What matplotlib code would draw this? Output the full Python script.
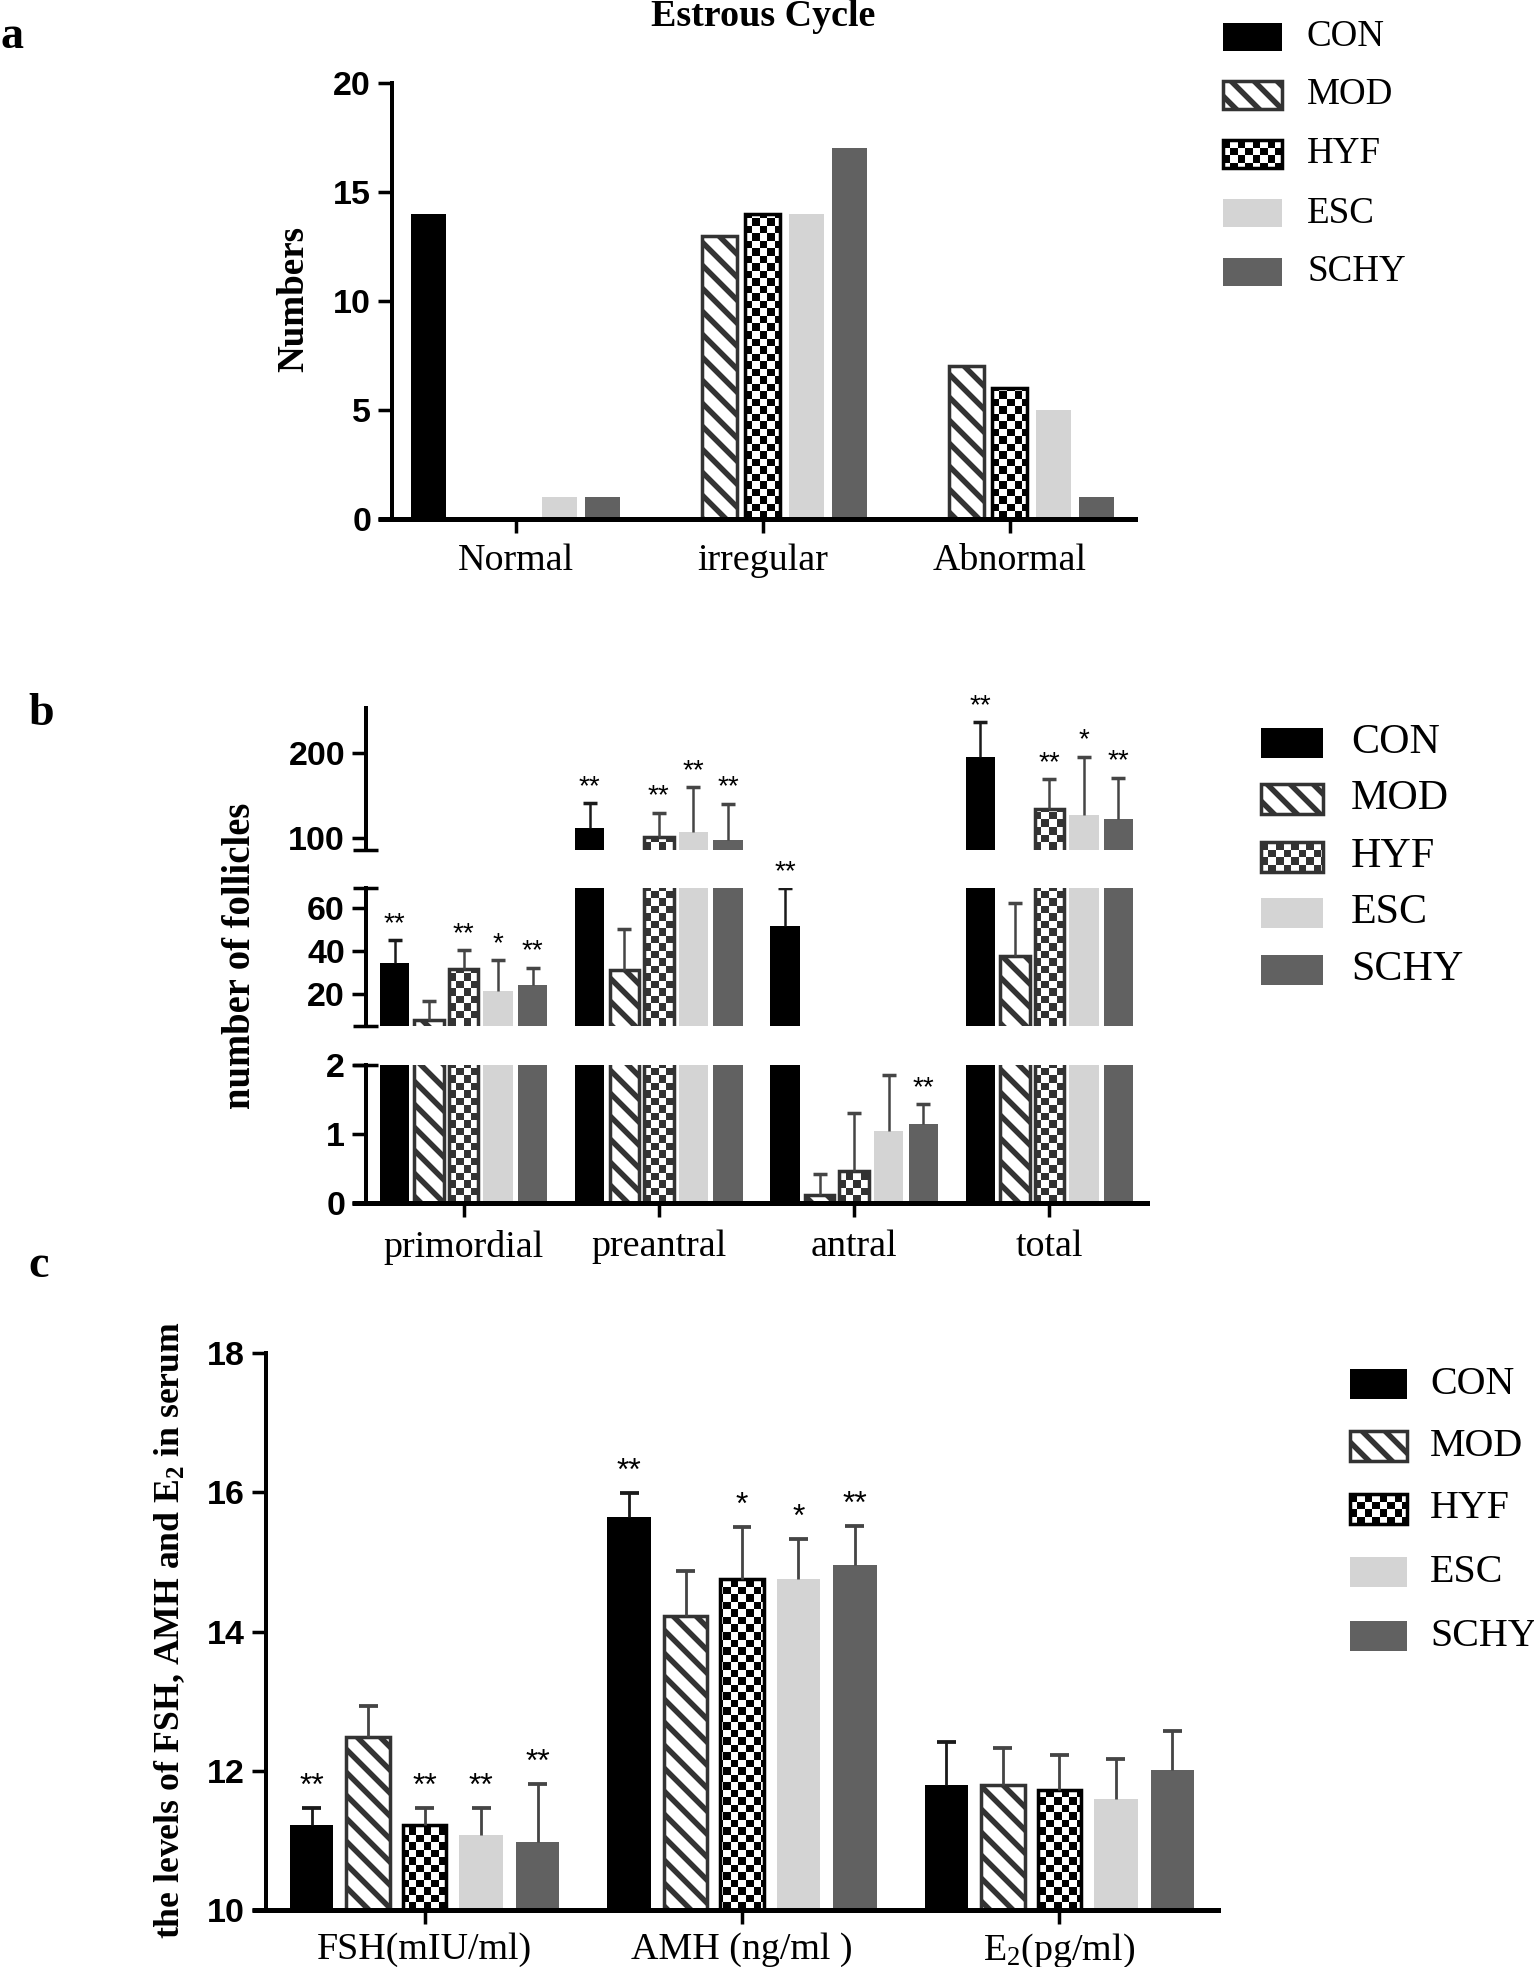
import numpy as np
import matplotlib
matplotlib.use('Agg')
import matplotlib.pyplot as plt
from matplotlib.patches import Rectangle
from matplotlib.image import AxesImage

W, H = 1534, 1967
DPI = 138
PT = 72 / DPI      # points per pixel

plt.rcParams['font.family'] = 'Liberation Serif'
plt.rcParams['mathtext.fontset'] = 'custom'
plt.rcParams['mathtext.rm'] = 'Liberation Serif'
plt.rcParams['mathtext.bf'] = 'Liberation Serif:bold'
plt.rcParams['mathtext.it'] = 'Liberation Serif:italic'
plt.rcParams['hatch.linewidth'] = 5.5 * PT

GROUPS = ['CON', 'MOD', 'HYF', 'ESC', 'SCHY']

# panel a - estrous cycle (numbers of rats)
cycle_cats = ['Normal', 'irregular', 'Abnormal']
cycle_con = [14, 0, 0]
cycle_mod = [0, 13, 7]
cycle_hyf = [0, 14, 6]
cycle_esc = [1, 14, 5]
cycle_schy = [1, 17, 1]

# panel b - number of follicles, mean and sd
foll_cats = ['primordial', 'preantral', 'antral', 'total']
foll_con = [34.3, 111.6, 51.7, 194.3]
foll_mod = [7.5, 31.3, 0.11, 37.9]
foll_hyf = [31.5, 101.9, 0.46, 134.3]
foll_esc = [21.2, 107.0, 1.04, 127.3]
foll_schy = [23.9, 97.4, 1.15, 122.9]
foll_con_sd = [11.0, 29.8, 17.7, 40.9]
foll_mod_sd = [8.9, 19.2, 0.31, 24.5]
foll_hyf_sd = [8.8, 28.1, 0.85, 34.4]
foll_esc_sd = [14.7, 52.8, 0.82, 68.1]
foll_schy_sd = [8.3, 43.1, 0.28, 47.9]
foll_con_sig = ['**', '**', '**', '**']
foll_mod_sig = ['', '', '', '']
foll_hyf_sig = ['**', '**', '', '**']
foll_esc_sig = ['*', '**', '', '*']
foll_schy_sig = ['**', '**', '**', '**']

# panel c - serum hormones, mean and sd
horm_cats = ['FSH(mIU/ml)', 'AMH (ng/ml )', 'E$_2$(pg/ml)']
horm_con = [11.22, 15.65, 11.79]
horm_mod = [12.48, 14.22, 11.79]
horm_hyf = [11.22, 14.76, 11.73]
horm_esc = [11.08, 14.76, 11.59]
horm_schy = [10.98, 14.96, 12.01]
horm_con_sd = [0.25, 0.34, 0.62]
horm_mod_sd = [0.45, 0.65, 0.53]
horm_hyf_sd = [0.25, 0.74, 0.49]
horm_esc_sd = [0.39, 0.57, 0.58]
horm_schy_sd = [0.83, 0.56, 0.56]
horm_con_sig = ['**', '**', '']
horm_mod_sig = ['', '', '']
horm_hyf_sig = ['**', '*', '']
horm_esc_sig = ['**', '*', '']
horm_schy_sig = ['**', '**', '']

ESC_C = '#d4d4d4'
SCHY_C = '#616161'
MOD_EDGE = '#333333'
MOD_HATCH = '\\\\'
TICK_FS = 34 * PT
XLAB_FS = 38 * PT


def px_rect(x0, y0, x1, y1):
    return [x0 / W, 1 - y1 / H, (x1 - x0) / W, (y1 - y0) / H]


def add_checker(ax, patch, trans, x0, x1, y0, y1, wpx, hpx, cell=7.5):
    # white checker squares clipped to a patch
    ncol = int(np.ceil(wpx / cell))
    nrow = int(np.ceil(hpx / cell))
    rows, cols = np.indices((nrow, ncol))
    arr = np.ones((nrow, ncol, 4))
    arr[..., 3] = ((rows + cols) % 2 == 0).astype(float)
    xe = x0 + (x1 - x0) * ncol * cell / wpx
    ye = y0 + (y1 - y0) * nrow * cell / hpx
    im = AxesImage(ax, interpolation='nearest', origin='upper',
                   extent=(x0, xe, y0, ye), transform=trans)
    im.set_data(arr)
    im.set_zorder(patch.get_zorder() + 0.1)
    im.set_clip_path(patch)
    ax.add_image(im)


def axes_px(ax):
    bb = ax.get_position()
    return bb.width * W, bb.height * H


def draw_bars(ax, series, step, width, hyf_bg):
    n = len(series[0])
    wpx, hpx = axes_px(ax)
    xs = []
    for i, (g, vals) in enumerate(zip(GROUPS, series)):
        x = np.arange(n) + (i - 2) * step
        vals = np.asarray(vals, float)
        lw = np.where(vals > 0, 3.5 * PT, 0)
        if g == 'CON':
            ax.bar(x, vals, width, color='black', linewidth=0, zorder=2)
        elif g == 'MOD':
            ax.bar(x, vals, width, color='white', edgecolor=MOD_EDGE, hatch=MOD_HATCH,
                   linewidth=lw, zorder=2)
        elif g == 'HYF':
            bars = ax.bar(x, vals, width, color=hyf_bg, linewidth=0, zorder=2)
            for b in bars:
                add_checker(ax, b, ax.transAxes, 0, 1, 0, 1, wpx, hpx)
            ax.bar(x, vals, width, fill=False, edgecolor=hyf_bg, linewidth=lw, zorder=2.3)
        elif g == 'ESC':
            ax.bar(x, vals, width, color=ESC_C, linewidth=0, zorder=2)
        else:
            ax.bar(x, vals, width, color=SCHY_C, linewidth=0, zorder=2)
        xs.append(x)
    return xs


def draw_err(ax, xs, series, sds, cap_px, lw_px):
    hw = cap_px / 2 / axes_px(ax)[0] * (ax.get_xlim()[1] - ax.get_xlim()[0])
    for g, x, vals, sd in zip(GROUPS, xs, series, sds):
        vals = np.asarray(vals, float)
        top = vals + np.asarray(sd, float)
        col = '#1a1a1a' if g == 'CON' else '#454545'
        ax.vlines(x, vals, top, colors=col, linewidth=lw_px * PT, zorder=3)
        ax.hlines(top, x - hw, x + hw, colors=col, linewidth=(lw_px + 1) * PT, zorder=3)


def draw_stars(ax, xs, series, sds, sigs, off_px, fs_px):
    lo, hi = ax.get_ylim()
    for x, vals, sd, sig in zip(xs, series, sds, sigs):
        for xi, v, s, t in zip(x, vals, sd, sig):
            top = v + s
            if not t or not (lo <= top <= hi + 1e-6):
                continue
            ax.annotate(t, (xi, top), xytext=(0, off_px * PT), textcoords='offset points',
                        ha='center', va='center', fontsize=fs_px * PT,
                        family='Liberation Sans', annotation_clip=False, zorder=4)


def style_axes(ax, ylim, yticks, xlim, show_x, cats=None, xpad=8):
    ax.set_xlim(*xlim)
    ax.set_ylim(*ylim)
    ax.patch.set_visible(False)
    for s in ['top', 'right']:
        ax.spines[s].set_visible(False)
    ax.spines['left'].set_linewidth(4 * PT)
    ax.spines['bottom'].set_linewidth(5 * PT)
    ax.set_yticks(yticks, labels=[str(t) for t in yticks], fontfamily='Liberation Sans',
                  fontweight='bold', fontsize=TICK_FS)
    ax.tick_params(axis='y', length=14 * PT, width=3.5 * PT, pad=7 * PT)
    if show_x:
        ax.set_xticks(range(len(cats)), labels=cats, fontsize=XLAB_FS)
        ax.tick_params(axis='x', length=14 * PT, width=3.5 * PT, pad=xpad * PT)
        # x axis line runs a little past the y axis, as in Prism
        wpx = axes_px(ax)[0]
        ax.plot([-14 / wpx, 0], [0, 0], transform=ax.transAxes, color='black',
                lw=5 * PT, clip_on=False, solid_capstyle='butt')
    else:
        ax.spines['bottom'].set_visible(False)
        ax.set_xticks([])


def break_mark(ax, y):
    wpx = axes_px(ax)[0]
    ax.plot([-13 / wpx, 12 / wpx], [y, y], transform=ax.transAxes, color='black',
            lw=3.5 * PT, clip_on=False, solid_capstyle='butt')


fig = plt.figure(figsize=(W / DPI, H / DPI), dpi=DPI)

# ---------------- panel a
ax_a = fig.add_axes(px_rect(392, 83, 1135, 519))
style_axes(ax_a, (0, 20), [0, 5, 10, 15, 20], (-0.5, 2.506), True, cycle_cats, xpad=11)
draw_bars(ax_a, [cycle_con, cycle_mod, cycle_hyf, cycle_esc, cycle_schy], 0.176, 0.142, '#000000')

# ---------------- panel b (broken y axis)
foll = [foll_con, foll_mod, foll_hyf, foll_esc, foll_schy]
foll_sd = [foll_con_sd, foll_mod_sd, foll_hyf_sd, foll_esc_sd, foll_schy_sd]
foll_sig = [foll_con_sig, foll_mod_sig, foll_hyf_sig, foll_esc_sig, foll_schy_sig]
ax_bt = fig.add_axes(px_rect(366, 708, 1147, 850))
ax_bm = fig.add_axes(px_rect(366, 888, 1147, 1026))
ax_bl = fig.add_axes(px_rect(366, 1065, 1147, 1203))
style_axes(ax_bt, (86.3, 252), [100, 200], (-0.5, 3.5), False)
style_axes(ax_bm, (4.8, 69.6), [20, 40, 60], (-0.5, 3.5), False)
style_axes(ax_bl, (0, 2), [0, 1, 2], (-0.5, 3.5), True, foll_cats, xpad=13)
for ax in [ax_bt, ax_bm, ax_bl]:
    xs = draw_bars(ax, foll, 0.177, 0.151, '#333333')
    draw_err(ax, xs, foll, foll_sd, 14, 2.5)
    draw_stars(ax, xs, foll, foll_sd, foll_sig, 16, 28)
break_mark(ax_bt, 0)
break_mark(ax_bm, 1)
break_mark(ax_bm, 0)
break_mark(ax_bl, 1)

# ---------------- panel c
horm = [horm_con, horm_mod, horm_hyf, horm_esc, horm_schy]
horm_sd = [horm_con_sd, horm_mod_sd, horm_hyf_sd, horm_esc_sd, horm_schy_sd]
horm_sig = [horm_con_sig, horm_mod_sig, horm_hyf_sig, horm_esc_sig, horm_schy_sig]
ax_c = fig.add_axes(px_rect(266, 1353, 1218, 1910))
style_axes(ax_c, (10, 18), [10, 12, 14, 16, 18], (-0.5, 2.5), True, horm_cats, xpad=8)
xs = draw_bars(ax_c, horm, 0.178, 0.137, '#000000')
draw_err(ax_c, xs, horm, horm_sd, 19, 2.8)
draw_stars(ax_c, xs, horm, horm_sd, horm_sig, 21, 32)

# ---------------- overlay for titles, labels and legends (pixel coords)
ax_o = fig.add_axes([0, 0, 1, 1])
ax_o.set_xlim(0, W)
ax_o.set_ylim(H, 0)
ax_o.axis('off')

for letter, (lx, ly) in zip(['a', 'b', 'c'], [(0, 48), (28, 725), (28, 1277)]):
    ax_o.text(lx, ly, letter, fontsize=46 * PT, fontweight='bold', ha='left', va='baseline')
ax_o.text(763, 26, 'Estrous Cycle', fontsize=38 * PT, fontweight='bold', ha='center', va='baseline')
ax_o.text(294, 299, 'Numbers', rotation=90, fontsize=37 * PT, fontweight='bold',
          ha='center', va='center')
ax_o.text(240, 956, 'number of follicles', rotation=90, fontsize=38.6 * PT, fontweight='bold',
          ha='center', va='center')
ax_o.text(170, 1630, 'the levels of FSH, AMH and E$_\\mathbf{2}$ in serum', rotation=90,
          fontsize=35.6 * PT, fontweight='bold', ha='center', va='center')


def draw_legend(x0, x1, centers, h, text_x, fs_px, hyf_bg):
    for g, cy in zip(GROUPS, centers):
        y0 = cy - h / 2
        if g == 'CON':
            ax_o.add_patch(Rectangle((x0, y0), x1 - x0, h, facecolor='black', edgecolor='none'))
        elif g == 'MOD':
            ax_o.add_patch(Rectangle((x0, y0), x1 - x0, h, facecolor='white', edgecolor=MOD_EDGE,
                                     hatch=MOD_HATCH, linewidth=3.5 * PT))
        elif g == 'HYF':
            r = Rectangle((x0, y0), x1 - x0, h, facecolor=hyf_bg, edgecolor='none', zorder=2)
            ax_o.add_patch(r)
            add_checker(ax_o, r, ax_o.transData, x0, x1, y0, y0 + h, x1 - x0, h)
            ax_o.add_patch(Rectangle((x0, y0), x1 - x0, h, fill=False, edgecolor=hyf_bg,
                                     linewidth=3.5 * PT, zorder=2.3))
        elif g == 'ESC':
            ax_o.add_patch(Rectangle((x0, y0), x1 - x0, h, facecolor=ESC_C, edgecolor='none'))
        else:
            ax_o.add_patch(Rectangle((x0, y0), x1 - x0, h, facecolor=SCHY_C, edgecolor='none'))
        ax_o.text(text_x, cy, g, fontsize=fs_px * PT, ha='left', va='center')


draw_legend(1223, 1282, [36.5, 94.7, 154, 213.3, 272], 28, 1307, 37, '#000000')
draw_legend(1261, 1323, [742.5, 799, 857, 913, 970], 30, 1351, 42, '#333333')
draw_legend(1350, 1407, [1384, 1446, 1509, 1572, 1636], 30, 1430, 40, '#000000')

fig.savefig('out.png', dpi=DPI)
